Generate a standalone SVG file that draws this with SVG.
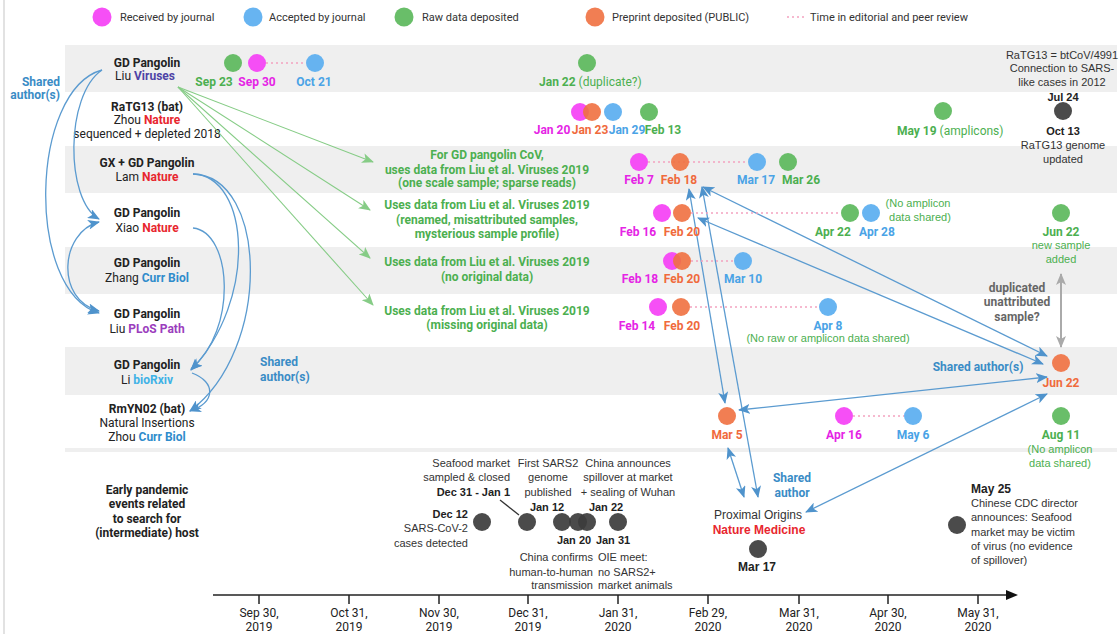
<svg xmlns="http://www.w3.org/2000/svg" width="1119" height="634" viewBox="0 0 1119 634">
<style>
.t{font-family:Roboto,"Liberation Sans",sans-serif;font-size:12px;fill:#222;text-anchor:middle}
.b{font-weight:bold}
.ev{font-family:"Liberation Sans",Arial,sans-serif;font-size:11px;fill:#333;text-anchor:middle}
.l{text-anchor:start}
.r{text-anchor:end}
.lg{font-family:Roboto,"Liberation Sans",sans-serif;font-size:11px;fill:#333}
.gt{fill:#4caf50}.mt{fill:#e524e5}.ot{fill:#f06a3c}.bt{fill:#4aa3e6}.st{fill:#3a8cc6}
.red{fill:#e8262e}.pur{fill:#4e43a6}.cb{fill:#2f8ccc}.pp{fill:#9b3dbd}.bx{fill:#3fb2e6}
.k{fill:#222}
.band{fill:#efefef}
.cg{fill:#5cb85c;fill-opacity:.92}.cm{fill:#f53cf5;fill-opacity:.9}.cbl{fill:#5aaef0;fill-opacity:.92}.co{fill:#f07040;fill-opacity:.9}.cd{fill:#3c3c3c;fill-opacity:.92}
.dot{stroke:#f4a3c0;stroke-width:1.3;stroke-dasharray:2 3;fill:none}
.conn{stroke:#5b9bd0;stroke-width:1.3;fill:none}
.gc{stroke:#86cc86;stroke-width:1.1;fill:none}
</style>
<defs>
<marker id="ab" viewBox="0 0 12 10" refX="11" refY="5" markerWidth="12" markerHeight="10" markerUnits="userSpaceOnUse" orient="auto-start-reverse"><path d="M0,0 L12,5 L0,10 L3,5 z" fill="#4f93cc"/></marker>
<marker id="ag" viewBox="0 0 12 10" refX="11" refY="5" markerWidth="12" markerHeight="10" markerUnits="userSpaceOnUse" orient="auto"><path d="M0,0 L12,5 L0,10 L3,5 z" fill="#86cc86"/></marker>
<marker id="agr" viewBox="0 0 12 10" refX="11" refY="5" markerWidth="12" markerHeight="10" markerUnits="userSpaceOnUse" orient="auto-start-reverse"><path d="M0,0 L12,5 L0,10 L3,5 z" fill="#aaa"/></marker>
<marker id="ax" viewBox="0 0 12 10" refX="2" refY="5" markerWidth="12" markerHeight="10" markerUnits="userSpaceOnUse" orient="auto"><path d="M0,0 L12,5 L0,10 z" fill="#111"/></marker>
</defs>
<rect width="1119" height="634" fill="#fff"/>
<line x1="4" y1="0" x2="4" y2="634" stroke="#d8d8d8" stroke-width="1.5"/>

<g id="bands">
<rect class="band" x="65" y="45" width="1052" height="47"/>
<rect class="band" x="65" y="146" width="1052" height="47"/>
<rect class="band" x="65" y="247" width="1052" height="47"/>
<rect class="band" x="65" y="347" width="1052" height="48"/>
<rect class="band" x="65" y="448" width="1052" height="4"/>
</g>

<g id="legend">
<circle class="cm" cx="102" cy="17" r="9.5"/><text class="lg" x="120" y="21">Received by journal</text>
<circle class="cbl" cx="253" cy="17" r="9.5"/><text class="lg" x="269" y="21">Accepted by journal</text>
<circle class="cg" cx="404" cy="17" r="9.5"/><text class="lg" x="422" y="21">Raw data deposited</text>
<circle class="co" cx="595" cy="17" r="9.5"/><text class="lg" x="612" y="21">Preprint deposited (PUBLIC)</text>
<line class="dot" x1="787" y1="17" x2="805" y2="17"/><text class="lg" x="810" y="21">Time in editorial and peer review</text>
</g>

<g id="labels">
<g id="n-liu-viruses"><text class="t b" x="147" y="67">GD Pangolin</text><text class="t" x="145" y="80">Liu <tspan class="b pur">Viruses</tspan></text></g>
<g id="n-ratg13"><text class="t b" x="147" y="111">RaTG13 (bat)</text><text class="t" x="147" y="124">Zhou <tspan class="b red">Nature</tspan></text><text class="t" x="147" y="138">sequenced + depleted 2018</text></g>
<g id="n-lam"><text class="t b" x="147" y="167">GX + GD Pangolin</text><text class="t" x="147" y="181">Lam <tspan class="b red">Nature</tspan></text></g>
<g id="n-xiao"><text class="t b" x="147" y="217">GD Pangolin</text><text class="t" x="147" y="232">Xiao <tspan class="b red">Nature</tspan></text></g>
<g id="n-zhang"><text class="t b" x="147" y="267">GD Pangolin</text><text class="t" x="147" y="282">Zhang <tspan class="b cb">Curr Biol</tspan></text></g>
<g id="n-liu-plos"><text class="t b" x="147" y="318">GD Pangolin</text><text class="t" x="147" y="333">Liu <tspan class="b pp">PLoS Path</tspan></text></g>
<g id="n-li"><text class="t b" x="147" y="369">GD Pangolin</text><text class="t" x="147" y="384">Li <tspan class="b bx">bioRxiv</tspan></text></g>
<g id="n-rmyn02"><text class="t b" x="147" y="413">RmYN02 (bat)</text><text class="t" x="147" y="427">Natural Insertions</text><text class="t" x="147" y="441">Zhou <tspan class="b cb">Curr Biol</tspan></text></g>
<g id="n-early"><text class="t b" x="147" y="494">Early pandemic</text><text class="t b" x="147" y="508">events related</text><text class="t b" x="147" y="523">to search for</text><text class="t b" x="147" y="537">(intermediate) host</text></g>
<text class="t b st r" x="60" y="86">Shared</text><text class="t b st r" x="60" y="99">author(s)</text>
<text class="t b st l" x="260" y="366">Shared</text><text class="t b st l" x="260" y="381">author(s)</text>
</g>

<g id="green-notes">
<text class="t b gt" x="487" y="159">For GD pangolin CoV,</text>
<text class="t b gt" x="487" y="174">uses data from Liu et al.  Viruses 2019</text>
<text class="t b gt" x="487" y="187">(one scale sample; sparse reads)</text>
<text class="t b gt" x="487" y="209">Uses data from Liu et al.  Viruses 2019</text>
<text class="t b gt" x="487" y="224">(renamed, misattributed samples,</text>
<text class="t b gt" x="487" y="238">mysterious sample profile)</text>
<text class="t b gt" x="487" y="266">Uses data from Liu et al.  Viruses 2019</text>
<text class="t b gt" x="487" y="281">(no original data)</text>
<text class="t b gt" x="487" y="315">Uses data from Liu et al.  Viruses 2019</text>
<text class="t b gt" x="487" y="329">(missing original data)</text>
</g>

<g id="connectors">
<line class="gc" x1="178" y1="87" x2="373" y2="162" marker-end="url(#ag)"/>
<line class="gc" x1="178" y1="87" x2="370" y2="210" marker-end="url(#ag)"/>
<line class="gc" x1="178" y1="87" x2="370" y2="258" marker-end="url(#ag)"/>
<line class="gc" x1="178" y1="87" x2="373" y2="305" marker-end="url(#ag)"/>
<path class="conn" d="M102,70 C65,95 65,200 99,219" marker-end="url(#ab)"/>
<path class="conn" d="M102,70 C30,90 25,290 99,313" marker-end="url(#ab)"/>
<path class="conn" d="M99,222 C60,232 55,300 99,311" marker-start="url(#ab)" marker-end="url(#ab)"/>
<path class="conn" d="M193,174 C250,176 258,300 191,370" marker-end="url(#ab)"/>
<path class="conn" d="M193,174 C268,176 272,350 190,411" marker-end="url(#ab)"/>
<path class="conn" d="M193,228 C232,232 238,330 191,369" marker-end="url(#ab)"/>
<path class="conn" d="M192,373 C216,382 216,402 190,411" marker-end="url(#ab)"/>
<line class="conn" x1="689" y1="189" x2="725" y2="403" marker-start="url(#ab)" marker-end="url(#ab)"/>
<line class="conn" x1="702" y1="187" x2="758" y2="497" marker-start="url(#ab)" marker-end="url(#ab)"/>
<line class="conn" x1="728" y1="448" x2="744" y2="497" marker-start="url(#ab)" marker-end="url(#ab)"/>
<line class="conn" x1="703" y1="187" x2="1047" y2="356" marker-start="url(#ab)" marker-end="url(#ab)"/>
<line class="conn" x1="698" y1="218" x2="1043" y2="364" marker-start="url(#ab)" marker-end="url(#ab)"/>
<line class="conn" x1="739" y1="410" x2="1047" y2="377" marker-start="url(#ab)" marker-end="url(#ab)"/>
<line class="conn" x1="806" y1="512" x2="1047" y2="394" marker-start="url(#ab)" marker-end="url(#ab)"/>
<line x1="1061" y1="274" x2="1061" y2="347" stroke="#aaa" stroke-width="2" marker-start="url(#agr)" marker-end="url(#agr)"/>
<line x1="500" y1="500" x2="519" y2="515" stroke="#333" stroke-width="1.3"/>
</g>

<g id="row1">
<line class="dot" x1="266" y1="63" x2="306" y2="63"/>
<circle class="cg" cx="233" cy="63" r="9"/><circle class="cm" cx="257" cy="63" r="9"/><circle class="cbl" cx="315" cy="63" r="9"/>
<text class="t b gt" x="214" y="86">Sep 23</text><text class="t b mt" x="257" y="86">Sep 30</text><text class="t b bt" x="314" y="86">Oct 21</text>
<circle class="cg" cx="587" cy="63" r="9"/>
<text class="t gt l" x="539" y="86"><tspan class="b">Jan 22</tspan> (duplicate?)</text>
<text class="ev" x="1062" y="59">RaTG13 = btCoV/4991</text><text class="ev" x="1062" y="72">Connection to SARS-</text><text class="ev" x="1062" y="86">like cases in 2012</text>
</g>

<g id="row2">
<circle class="cm" cx="580" cy="112" r="9"/><circle class="co" cx="592" cy="112" r="9"/><circle class="cbl" cx="613" cy="112" r="9"/><circle class="cg" cx="649" cy="112" r="9"/>
<text class="t b mt" x="552" y="134">Jan 20</text><text class="t b ot" x="590" y="134">Jan 23</text><text class="t b bt" x="627" y="134">Jan 29</text><text class="t b gt" x="663" y="134">Feb 13</text>
<circle class="cg" cx="943" cy="111" r="9"/>
<text class="t gt l" x="897" y="135"><tspan class="b">May 19</tspan> (amplicons)</text>
<circle class="cd" cx="1063" cy="111" r="9"/>
<text class="ev b k" x="1063" y="101">Jul 24</text>
<text class="ev b k" x="1063" y="135">Oct 13</text>
<text class="ev" x="1063" y="149">RaTG13 genome</text><text class="ev" x="1063" y="163">updated</text>
</g>

<g id="row3">
<line class="dot" x1="648" y1="162" x2="748" y2="162"/>
<circle class="cm" cx="639" cy="162" r="9"/><circle class="co" cx="680" cy="162" r="9"/><circle class="cbl" cx="757" cy="162" r="9"/><circle class="cg" cx="788" cy="162" r="9"/>
<text class="t b mt" x="639" y="184">Feb 7</text><text class="t b ot" x="679" y="184">Feb 18</text><text class="t b bt" x="756" y="184">Mar 17</text><text class="t b gt" x="801" y="184">Mar 26</text>
</g>

<g id="row4">
<line class="dot" x1="691" y1="213" x2="841" y2="213"/>
<circle class="cm" cx="662" cy="213" r="9"/><circle class="co" cx="682" cy="213" r="9"/><circle class="cg" cx="850" cy="213" r="9"/><circle class="cbl" cx="871" cy="213" r="9"/>
<text class="t b mt" x="638" y="236">Feb 16</text><text class="t b ot" x="682" y="236">Feb 20</text><text class="t b gt" x="833" y="236">Apr 22</text><text class="t b bt" x="877" y="236">Apr 28</text>
<text class="ev gt" x="918" y="207">(No amplicon</text><text class="ev gt" x="920" y="221">data shared)</text>
<circle class="cg" cx="1061" cy="213" r="9"/>
<text class="t b gt" x="1061" y="236">Jun 22</text><text class="ev gt" x="1061" y="249">new sample</text><text class="ev gt" x="1061" y="263">added</text>
</g>

<g id="row5">
<line class="dot" x1="691" y1="261" x2="734" y2="261"/>
<circle class="cm" cx="672" cy="261" r="9"/><circle class="co" cx="682" cy="261" r="9"/><circle class="cbl" cx="743" cy="261" r="9"/>
<text class="t b mt" x="640" y="283">Feb 18</text><text class="t b ot" x="682" y="283">Feb 20</text><text class="t b bt" x="743" y="283">Mar 10</text>
</g>

<g id="row6">
<line class="dot" x1="690" y1="307" x2="819" y2="307"/>
<circle class="cm" cx="658" cy="307" r="9"/><circle class="co" cx="681" cy="307" r="9"/><circle class="cbl" cx="828" cy="307" r="9"/>
<text class="t b mt" x="637" y="330">Feb 14</text><text class="t b ot" x="682" y="330">Feb 20</text><text class="t b bt" x="828" y="330">Apr 8</text>
<text class="ev gt" x="828" y="342">(No raw or amplicon data shared)</text>
<text class="t b" x="1017" y="292" style="fill:#666">duplicated</text><text class="t b" x="1017" y="306" style="fill:#666">unattributed</text><text class="t b" x="1017" y="321" style="fill:#666">sample?</text>
</g>

<g id="row7">
<circle class="co" cx="1061" cy="363" r="9"/>
<text class="t b ot" x="1061" y="387">Jun 22</text>
<text class="t b st" x="978" y="371">Shared author(s)</text>
</g>

<g id="row8">
<circle class="co" cx="727" cy="416" r="9"/><text class="t b ot" x="727" y="439">Mar 5</text>
<line class="dot" x1="853" y1="416" x2="904" y2="416"/>
<circle class="cm" cx="844" cy="416" r="9"/><circle class="cbl" cx="913" cy="416" r="9"/>
<text class="t b mt" x="844" y="439">Apr 16</text><text class="t b bt" x="913" y="439">May 6</text>
<circle class="cg" cx="1061" cy="416" r="9"/><text class="t b gt" x="1061" y="439">Aug 11</text>
<text class="ev gt" x="1060" y="453">(No amplicon</text><text class="ev gt" x="1060" y="467">data shared)</text>
</g>

<g id="events">
<circle class="cd" cx="482" cy="522" r="9"/><circle class="cd" cx="527" cy="522" r="9"/><circle class="cd" cx="562" cy="522" r="9"/><circle class="cd" cx="578" cy="522" r="9"/><circle class="cd" cx="587" cy="522" r="9"/><circle class="cd" cx="618" cy="522" r="9"/>
<text class="ev b r k" x="468" y="518">Dec 12</text><text class="ev r" x="468" y="532">SARS-CoV-2</text><text class="ev r" x="468" y="547">cases detected</text>
<text class="ev r" x="510" y="467">Seafood market</text><text class="ev r" x="510" y="481">sampled &amp; closed</text><text class="ev b r k" x="510" y="496">Dec 31 - Jan 1</text>
<text class="ev" x="548" y="467">First SARS2</text><text class="ev" x="548" y="481">genome</text><text class="ev" x="548" y="496">published</text><text class="ev b k" x="547" y="511">Jan 12</text>
<text class="ev" x="628" y="467">China announces</text><text class="ev" x="628" y="481">spillover at market</text><text class="ev" x="628" y="496">+ sealing of Wuhan</text><text class="ev b k" x="606" y="511">Jan 22</text>
<text class="ev b k" x="574" y="544">Jan 20</text><text class="ev b k" x="613" y="544">Jan 31</text>
<text class="ev r" x="593" y="561">China confirms</text><text class="ev r" x="593" y="576">human-to-human</text><text class="ev r" x="593" y="589">transmission</text>
<text class="ev l" x="598" y="561">OIE meet:</text><text class="ev l" x="598" y="576">no SARS2+</text><text class="ev l" x="598" y="589">market animals</text>
<text class="ev" x="758" y="519" style="font-size:12px">Proximal Origins</text><text class="ev b red" x="759" y="534" style="font-size:12px">Nature Medicine</text>
<circle class="cd" cx="758" cy="549" r="9"/><text class="ev b k" x="757" y="571" style="font-size:12px">Mar 17</text>
<text class="t b st" x="792" y="482">Shared</text><text class="t b st" x="792" y="497">author</text>
<circle class="cd" cx="957" cy="525" r="9"/>
<text class="ev b l k" x="971" y="493" style="font-size:12px">May 25</text>
<text class="ev l" x="971" y="507">Chinese CDC director</text><text class="ev l" x="971" y="521">announces: Seafood</text><text class="ev l" x="971" y="536">market may be victim</text><text class="ev l" x="971" y="550">of virus (no evidence</text><text class="ev l" x="971" y="564">of spillover)</text>
</g>

<g id="axis">
<line x1="213" y1="595" x2="1008" y2="595" stroke="#222" stroke-width="1.5" marker-end="url(#ax)"/>
<g stroke="#222" stroke-width="1.5">
<line x1="259" y1="595" x2="259" y2="604"/><line x1="349" y1="595" x2="349" y2="604"/><line x1="439" y1="595" x2="439" y2="604"/><line x1="528" y1="595" x2="528" y2="604"/><line x1="618" y1="595" x2="618" y2="604"/><line x1="708" y1="595" x2="708" y2="604"/><line x1="799" y1="595" x2="799" y2="604"/><line x1="888" y1="595" x2="888" y2="604"/><line x1="978" y1="595" x2="978" y2="604"/>
</g>
<g style="fill:#333">
<text class="t" x="259" y="617">Sep 30,</text><text class="t" x="259" y="631">2019</text>
<text class="t" x="349" y="617">Oct 31,</text><text class="t" x="349" y="631">2019</text>
<text class="t" x="439" y="617">Nov 30,</text><text class="t" x="439" y="631">2019</text>
<text class="t" x="528" y="617">Dec 31,</text><text class="t" x="528" y="631">2019</text>
<text class="t" x="618" y="617">Jan 31,</text><text class="t" x="618" y="631">2020</text>
<text class="t" x="708" y="617">Feb 29,</text><text class="t" x="708" y="631">2020</text>
<text class="t" x="799" y="617">Mar 31,</text><text class="t" x="799" y="631">2020</text>
<text class="t" x="888" y="617">Apr 30,</text><text class="t" x="888" y="631">2020</text>
<text class="t" x="978" y="617">May 31,</text><text class="t" x="978" y="631">2020</text>
</g>
</g>
</svg>
